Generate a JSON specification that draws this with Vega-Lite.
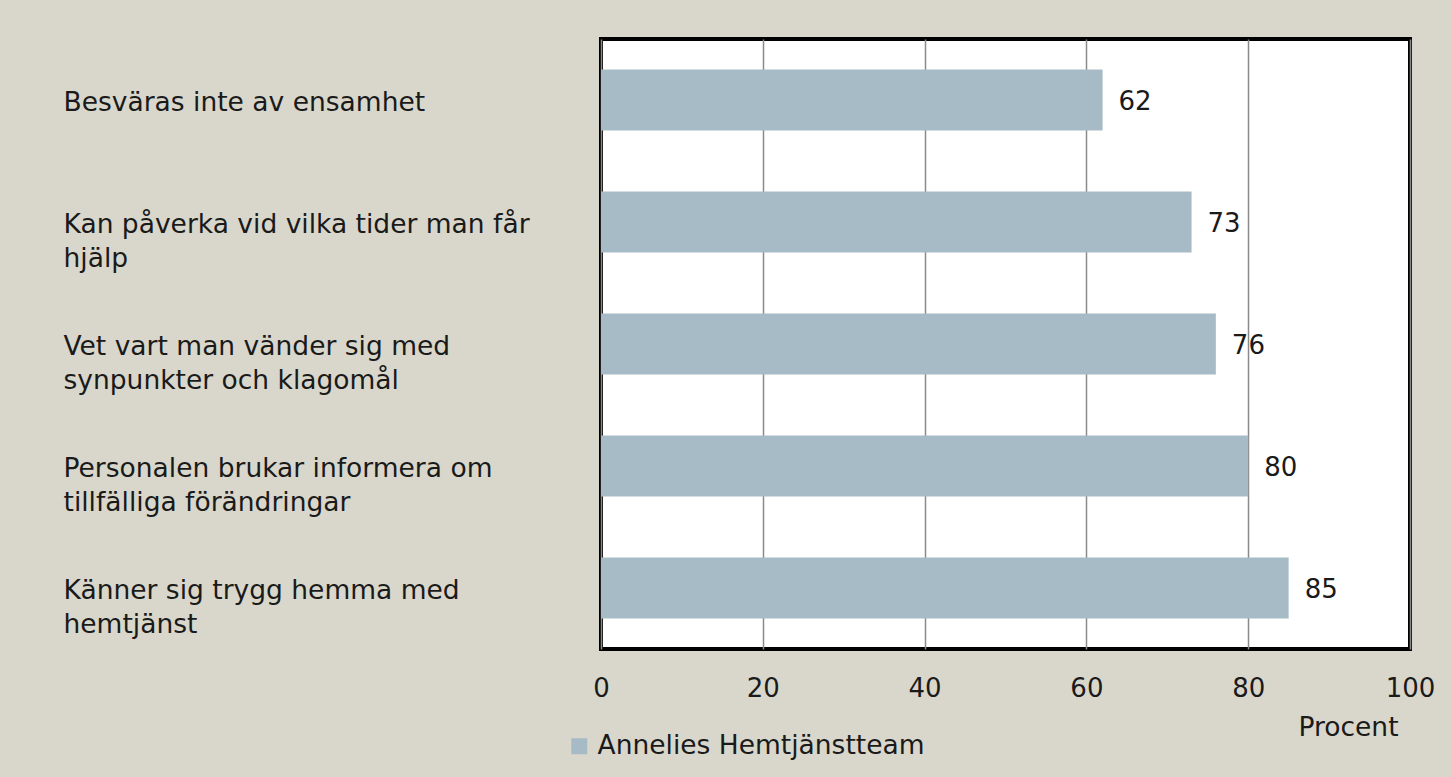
{
  "$schema": "https://vega.github.io/schema/vega-lite/v6.json",
  "autosize": {"type": "none"},
  "width": 809,
  "height": 610,
  "padding": {"left": 601, "top": 39, "right": 42, "bottom": 128},
  "background": "#D9D7CB",
  "view": {"fill": "white", "stroke": "black", "strokeWidth": 4},
  "config": {
    "font": "DejaVu Sans",
    "axis": {"labelFont": "DejaVu Sans", "titleFont": "DejaVu Sans", "labelColor": "#1a1a1a", "titleColor": "#1a1a1a"},
    "legend": {"labelFont": "DejaVu Sans"}
  },
  "data": {
    "values": [
      {"fraga": "Besväras inte av ensamhet", "serie": "Annelies Hemtjänstteam", "procent": 62},
      {"fraga": "Kan påverka vid vilka tider man får|hjälp", "serie": "Annelies Hemtjänstteam", "procent": 73},
      {"fraga": "Vet vart man vänder sig med|synpunkter och klagomål", "serie": "Annelies Hemtjänstteam", "procent": 76},
      {"fraga": "Personalen brukar informera om|tillfälliga förändringar", "serie": "Annelies Hemtjänstteam", "procent": 80},
      {"fraga": "Känner sig trygg hemma med|hemtjänst", "serie": "Annelies Hemtjänstteam", "procent": 85}
    ]
  },
  "encoding": {
    "y": {
      "field": "fraga",
      "type": "nominal",
      "sort": null,
      "scale": {"paddingInner": 0.5, "paddingOuter": 0.25},
      "axis": {
        "title": null,
        "domain": false,
        "ticks": false,
        "tickSize": 0,
        "grid": false,
        "labelAlign": "left",
        "labelBaseline": "alphabetic",
        "labelOffset": 11,
        "labelPadding": 538,
        "labelFontSize": 26.5,
        "labelLineHeight": 34,
        "labelLimit": 600,
        "labelExpr": "split(datum.label, '|')"
      }
    },
    "x": {
      "field": "procent",
      "type": "quantitative",
      "scale": {"domain": [0, 100], "nice": false},
      "axis": {
        "values": [0, 20, 40, 60, 80, 100],
        "title": "Procent",
        "titleFontSize": 26.5,
        "titleFontWeight": "normal",
        "titleX": 747,
        "titleY": 86,
        "titleAlign": "center",
        "titleBaseline": "alphabetic",
        "domain": false,
        "ticks": false,
        "tickSize": 0,
        "grid": true,
        "gridColor": "#8a8a8a",
        "gridWidth": 1.5,
        "gridOpacity": 1,
        "labelFontSize": 26,
        "labelPadding": 26,
        "labelBaseline": "top",
        "labelFlush": false
      }
    }
  },
  "layer": [
    {
      "mark": {"type": "bar", "color": "#A7BBC6"},
      "encoding": {
        "color": {
          "field": "serie",
          "type": "nominal",
          "scale": {"range": ["#A7BBC6"]},
          "legend": {
            "title": null,
            "orient": "none",
            "legendX": -35,
            "legendY": 694,
            "padding": 0,
            "symbolType": "square",
            "symbolSize": 256,
            "symbolStrokeWidth": 0,
            "symbolOpacity": 1,
            "labelFontSize": 26.5,
            "labelColor": "#1a1a1a",
            "labelOffset": 5,
            "labelLimit": 500
          }
        }
      }
    },
    {
      "mark": {"type": "text", "align": "left", "baseline": "middle", "dx": 16, "dy": 1.5, "fontSize": 26, "color": "#1a1a1a"},
      "encoding": {"text": {"field": "procent", "type": "quantitative"}}
    }
  ]
}
